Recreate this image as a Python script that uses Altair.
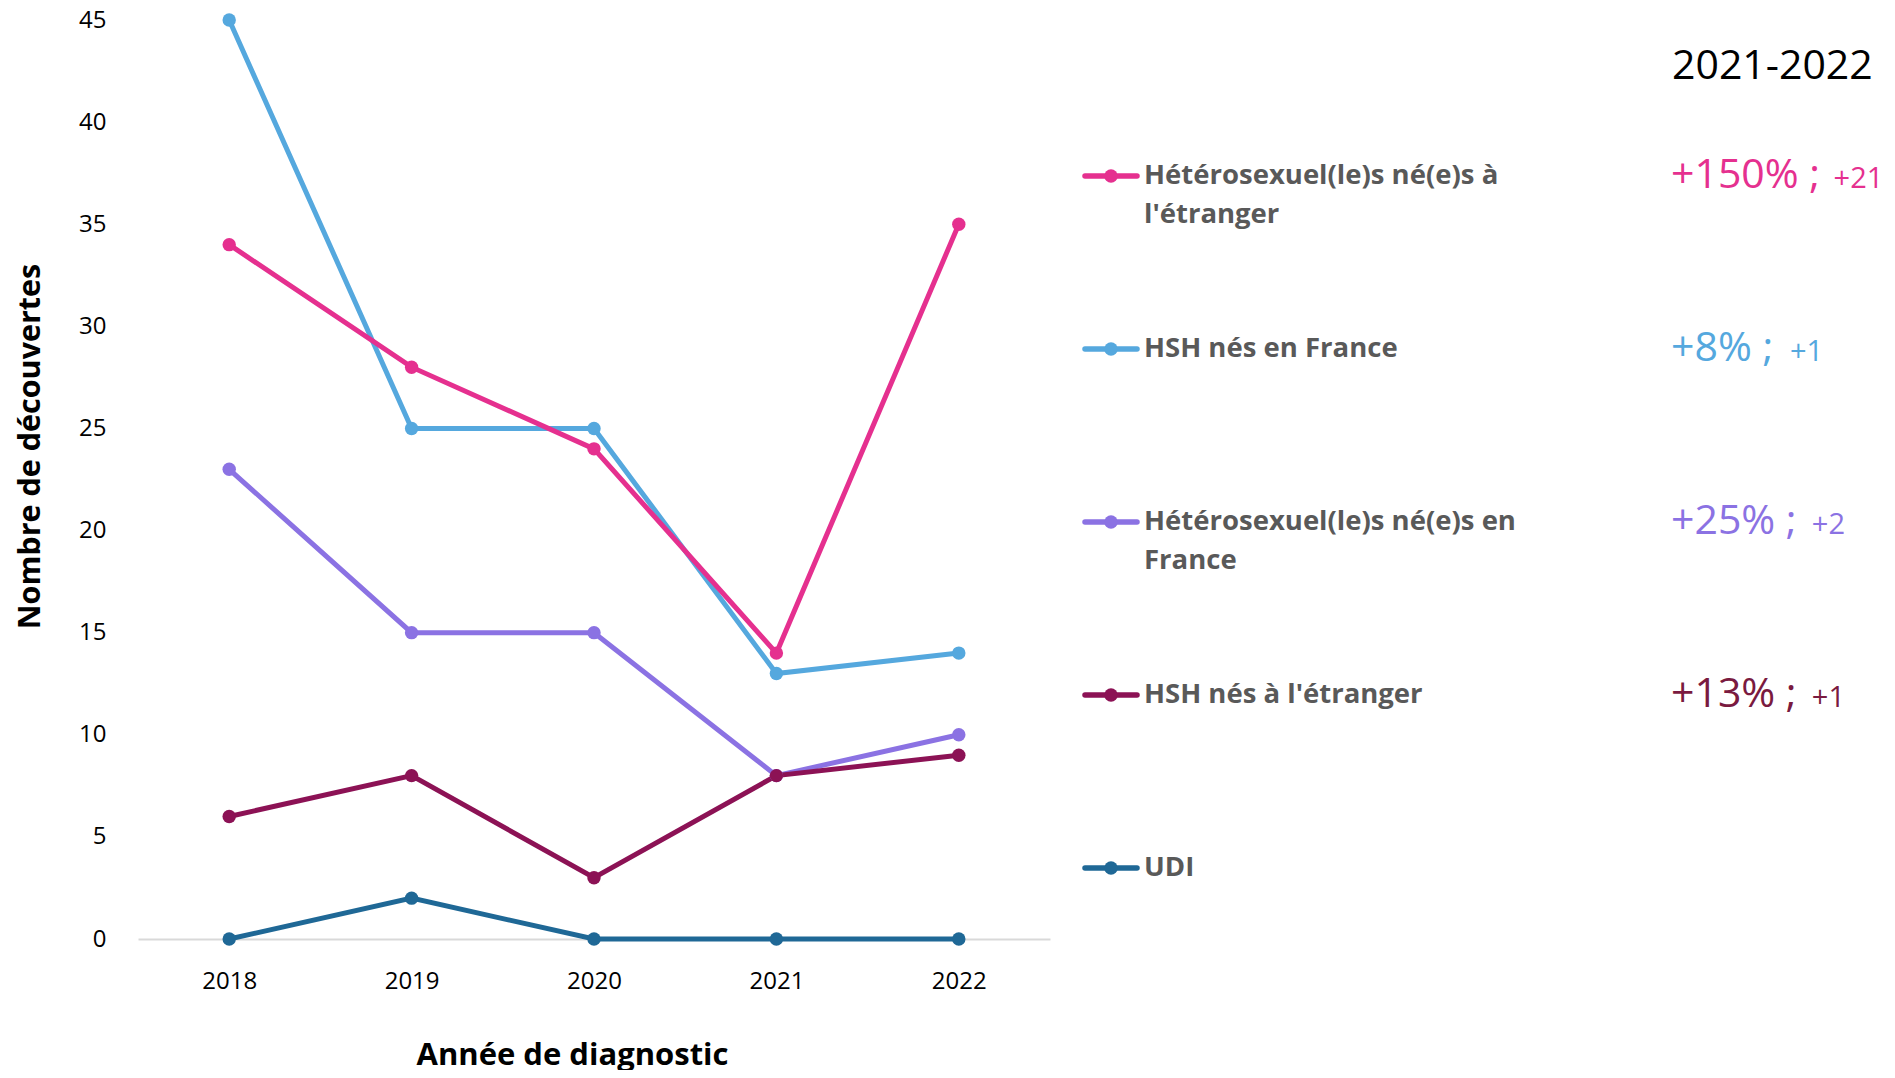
import altair as alt
import pandas as pd

years = [2018, 2019, 2020, 2021, 2022]
hetero_etranger = [34, 28, 24, 14, 35]
hsh_france = [45, 25, 25, 13, 14]
hetero_france = [23, 15, 15, 8, 10]
hsh_etranger = [6, 8, 3, 8, 9]
udi = [0, 2, 0, 0, 0]

categories = [
    "Hétérosexuel(le)s né(e)s à l'étranger",
    "HSH nés en France",
    "Hétérosexuel(le)s né(e)s en France",
    "HSH nés à l'étranger",
    "UDI",
]
label_line1 = ["Hétérosexuel(le)s né(e)s à", "HSH nés en France",
               "Hétérosexuel(le)s né(e)s en", "HSH nés à l'étranger", "UDI"]
label_line2 = ["l'étranger", "", "France", "", ""]
colors = ["#E5308F", "#55A8DE", "#8B72E3", "#8C1255", "#1F6896"]
text_colors = ["#E5308F", "#55A8DE", "#8B72E3", "#7A1A40", "#1F6896"]
pct_labels = ["+150% ;", "+8% ;", "+25% ;", "+13% ;", ""]
abs_labels = ["+21", "+1", "+2", "+1", ""]
period_label = "2021-2022"

series = [hetero_etranger, hsh_france, hetero_france, hsh_etranger, udi]
draw_order = [4, 2, 1, 0, 3]
rows = []
for i in draw_order:
    for y, v in zip(years, series[i]):
        rows.append({"annee": str(y), "n": v, "cat": categories[i]})
df = pd.DataFrame(rows)

leg = pd.DataFrame({
    "cat": categories,
    "l1": label_line1,
    "l2": label_line2,
    "tcolor": text_colors,
    "big": pct_labels,
    "small": abs_labels,
})

color = alt.Color("cat:N", scale=alt.Scale(domain=categories, range=colors), legend=None)
FONT = "Open Sans"

base = alt.Chart(df).encode(
    x=alt.X("annee:O", title="Année de diagnostic",
            axis=alt.Axis(labelAngle=0, ticks=False, domainColor="#D9D9D9", domainWidth=2,
                          labelPadding=30, titlePadding=47, labelFontSize=24,
                          titleFontSize=31, titleFontWeight="bold", labelColor="#000000",
                          titleColor="#000000", labelFont=FONT, titleFont=FONT, titleX=434)),
    y=alt.Y("n:Q", title="Nombre de découvertes",
            scale=alt.Scale(domain=[0, 45], nice=False),
            axis=alt.Axis(values=list(range(0, 50, 5)), domain=False, ticks=False, grid=False,
                          labelPadding=32, titlePadding=33, labelFontSize=24,
                          titleFontSize=30.5, titleFontWeight="bold", labelColor="#000000",
                          titleColor="#000000", labelFont=FONT, titleFont=FONT, titleY=426)),
    color=color,
)
main = (base.mark_line(strokeWidth=5) + base.mark_point(filled=True, size=180, opacity=1)).properties(
    width=912, height=919)

W = 800
ly = alt.Y("cat:N", scale=alt.Scale(type="point", domain=categories, range=[156, 848], padding=0),
           axis=None)
lb = alt.Chart(leg)
rule = lb.mark_rule(strokeWidth=5.5, strokeCap="round").encode(
    x=alt.value(0), x2=alt.value(52), y=ly, color=color)
pt = lb.mark_point(filled=True, size=180, opacity=1).encode(x=alt.value(26), y=ly, color=color)
t1 = lb.mark_text(align="left", baseline="middle", font=FONT, fontSize=27.5, fontWeight="bold",
                  color="#595959").encode(x=alt.value(59), y=ly, text="l1:N")
t2 = lb.mark_text(align="left", baseline="middle", dy=39, font=FONT, fontSize=27.5, fontWeight="bold",
                  color="#595959").encode(x=alt.value(59), y=ly, text="l2:N")
big = lb.mark_text(align="left", baseline="alphabetic", dy=12, font=FONT, fontSize=41).encode(
    x=alt.value(586), y=ly, text="big:N", color=alt.Color("tcolor:N", scale=None))
small = lb.transform_calculate(sx="596 + length(datum.big) * 21.8").mark_text(
    align="left", baseline="alphabetic", dy=12, font=FONT, fontSize=29).encode(
    x=alt.X("sx:Q", scale=alt.Scale(domain=[0, W], range=[0, W], nice=False, zero=False), axis=None),
    y=ly, text="small:N", color=alt.Color("tcolor:N", scale=None))
header = alt.Chart(pd.DataFrame({"h": [period_label]})).mark_text(
    align="left", baseline="middle", font=FONT, fontSize=41, color="#000000").encode(
    x=alt.value(587), y=alt.value(47), text="h:N")

legend_panel = alt.layer(rule, pt, t1, t2, big, small, header).properties(width=W, height=919)

chart = alt.hconcat(main, legend_panel, spacing=35, bounds="flush").properties(
    padding={"left": 7, "top": 0, "right": 2, "bottom": 0}
).configure(background="white").configure_view(strokeWidth=0)

chart.save("out.html", embed_options={"renderer": "svg", "actions": False})
